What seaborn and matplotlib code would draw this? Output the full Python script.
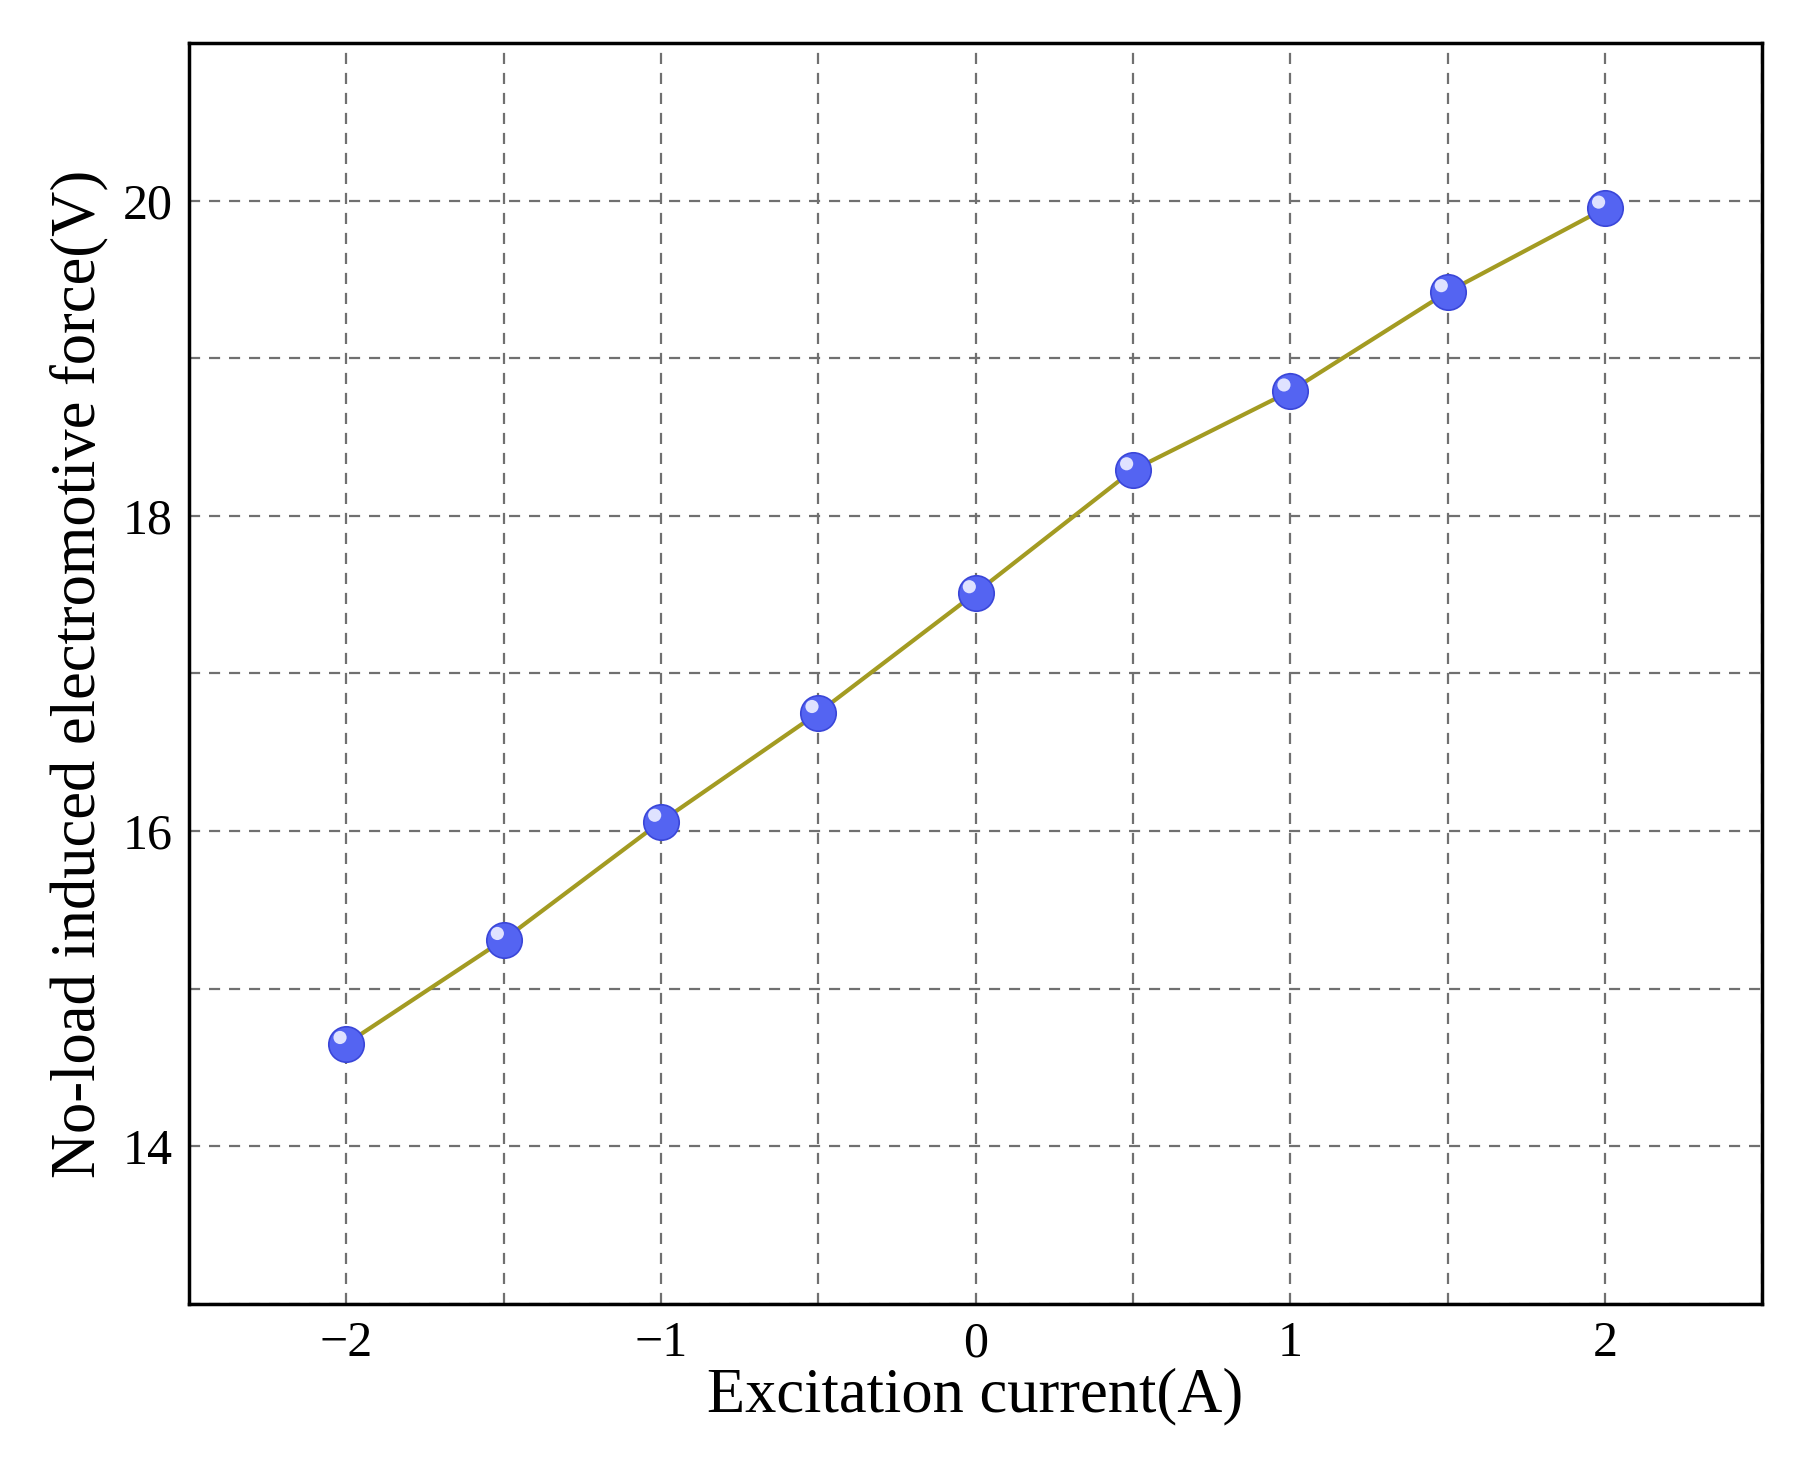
import numpy as np
import pandas as pd
import seaborn as sns
import matplotlib.pyplot as plt
from matplotlib.ticker import MultipleLocator

current = [-2.0, -1.5, -1.0, -0.5, 0.0, 0.5, 1.0, 1.5, 2.0]
emf = [14.65, 15.31, 16.06, 16.75, 17.51, 18.29, 18.79, 19.42, 19.95]

df = pd.DataFrame({'current': current, 'emf': emf})

sns.set_style('ticks')
plt.rcParams['font.family'] = ['Liberation Serif', 'DejaVu Serif']
plt.rcParams['text.color'] = 'black'
plt.rcParams['axes.labelcolor'] = 'black'
plt.rcParams['xtick.color'] = 'black'
plt.rcParams['ytick.color'] = 'black'

fig = plt.figure(figsize=(18, 14.8), dpi=100)
ax = fig.add_axes([0.105, 0.119, 0.874, 0.852])

sns.lineplot(data=df, x='current', y='emf', ax=ax, color='#a39b22', linewidth=3, zorder=3)
# sphere-like markers: blue disc with a light highlight
ax.scatter(df['current'], df['emf'], s=650, color='#5464f2', edgecolor='#3a46d8', linewidth=1.2, zorder=4)
ax.scatter(df['current'] - 0.02, df['emf'] + 0.04, s=90, color='#dfe2ff', edgecolor='none', zorder=5)

ax.set_xlim(-2.5, 2.5)
ax.set_ylim(13, 21)
ax.xaxis.set_minor_locator(MultipleLocator(0.5))
ax.yaxis.set_minor_locator(MultipleLocator(1))
ax.grid(which='both', color='#707070', linestyle=(0, (5, 4)), linewidth=1.6)

ax.set_xticks([-2, -1, 0, 1, 2])
ax.set_xticklabels(['\u22122', '\u22121', '0', '1', '2'])
ax.set_yticks([14, 16, 18, 20])
ax.tick_params(which='both', direction='in', length=0, labelsize=36, pad=12)

for s in ax.spines.values():
    s.set_linewidth(2.5)
    s.set_color('black')

ax.set_xlabel('Excitation current(A)', fontsize=45, labelpad=0)
ax.set_ylabel('No-load induced electromotive force(V)', fontsize=45, labelpad=10)

fig.savefig('out.png', dpi=100)
